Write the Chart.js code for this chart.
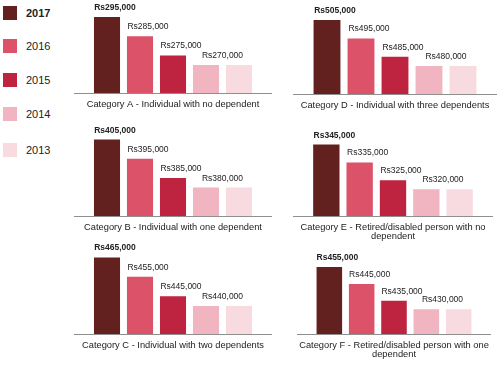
<!DOCTYPE html>
<html>
<head>
<meta charset="utf-8">
<script src="https://cdn.jsdelivr.net/npm/chart.js@4.4.1/dist/chart.umd.min.js"></script>
<style>
  html, body { margin: 0; background: #fff; }
  #wrap { position: relative; width: 500px; height: 366px; overflow: hidden;
          font-family: "Liberation Sans", Arial, sans-serif; }
  #wrap canvas { position: absolute; }
  .lg { position: absolute; left: 3px; width: 60px; height: 14px; font-size: 11px; color: #222; }
  .lg i { position: absolute; left: 0; top: 0; width: 14px; height: 14px; }
  .lg span { position: absolute; left: 23px; top: 0; line-height: 14px; white-space: nowrap; }
  .lg.bold span { font-weight: bold; }
</style>
</head>
<body>
<div id="wrap"></div>
<script>
// ---- data ----
const years = ['2017', '2016', '2015', '2014', '2013'];
const yearColors = ['#62201f', '#dc5269', '#be2340', '#f0b5c0', '#f8dbe0'];

const categories = [
  ['Category A - Individual with no dependent'],
  ['Category B - Individual with one dependent'],
  ['Category C - Individual with two dependents'],
  ['Category D - Individual with three dependents'],
  ['Category E - Retired/disabled person with no', 'dependent'],
  ['Category F - Retired/disabled person with one', 'dependent'],
];

const catA = [295000, 285000, 275000, 270000, 270000];
const catB = [405000, 395000, 385000, 380000, 380000];
const catC = [465000, 455000, 445000, 440000, 440000];
const catD = [505000, 495000, 485000, 480000, 480000];
const catE = [345000, 335000, 325000, 320000, 320000];
const catF = [455000, 445000, 435000, 430000, 430000];
const seriesValues = [catA, catB, catC, catD, catE, catF];

// value axis range of each panel (axis is hidden, bars start at the min)
const axisMin = [255400, 365200, 425600, 464800, 305000, 415400];
const axisMax = [302300, 412100, 471900, 513700, 355400, 468600];

// ---- layout ----
const panels = [
  { left: 74,  axisY: 93,  width: 198 },
  { left: 74,  axisY: 216, width: 198 },
  { left: 74,  axisY: 334, width: 198 },
  { left: 293, axisY: 94,  width: 204 },
  { left: 293, axisY: 216, width: 200 },
  { left: 297, axisY: 334, width: 194 },
];
const PLOT_H = 90;
const FONT = '"Liberation Sans", Arial, sans-serif';
const TITLE_LH = 9.6, TITLE_PAD = 6.5;

Chart.defaults.font.family = FONT;
Chart.defaults.color = '#222';

const wrap = document.getElementById('wrap');

// legend
const legendTops = [6, 39, 73, 107, 143];
years.forEach((y, i) => {
  const d = document.createElement('div');
  d.className = 'lg' + (i === 0 ? ' bold' : '');
  d.style.top = legendTops[i] + 'px';
  d.innerHTML = '<i style="background:' + yearColors[i] + '"></i><span>' + y + '</span>';
  wrap.appendChild(d);
});

function fmtRs(v) {
  return 'Rs' + String(v).replace(/\B(?=(\d{3})+(?!\d))/g, ',');
}

// labels over the bars; equal neighbours share one label
const valueLabels = {
  id: 'valueLabels',
  afterDatasetsDraw(chart) {
    const ctx = chart.ctx;
    const bars = chart.getDatasetMeta(0).data;
    const vals = chart.data.datasets[0].data.map(d => d.y);
    ctx.save();
    ctx.fillStyle = '#222';
    ctx.textAlign = 'center';
    ctx.textBaseline = 'alphabetic';
    bars.forEach((bar, i) => {
      if (i > 0 && vals[i] === vals[i - 1]) return;
      let x = bar.x + 8;
      if (i < vals.length - 1 && vals[i] === vals[i + 1]) x = (bar.x + bars[i + 1].x) / 2;
      ctx.font = (i === 0 ? 'bold ' : '') + '8.5px ' + FONT;
      ctx.fillText(fmtRs(vals[i]), x, bar.y - 7);
    });
    ctx.restore();
  }
};

panels.forEach((p, k) => {
  const lines = categories[k].length;
  const raw = lines * TITLE_LH + TITLE_PAD + 2;
  const axisH = Math.ceil(raw);
  const padBottom = axisH - lines * TITLE_LH - TITLE_PAD;

  const cv = document.createElement('canvas');
  cv.width = p.width;
  cv.height = PLOT_H + axisH;
  cv.style.left = p.left + 'px';
  cv.style.top = (p.axisY - PLOT_H) + 'px';
  wrap.appendChild(cv);

  new Chart(cv, {
    type: 'bar',
    data: {
      datasets: [{
        data: seriesValues[k].map((v, i) => ({ x: i, y: v })),
        backgroundColor: yearColors,
        borderWidth: 0,
        categoryPercentage: 1,
        barPercentage: 0.79,
      }],
    },
    options: {
      responsive: false,
      animation: false,
      layout: { padding: 0 },
      plugins: { legend: { display: false }, tooltip: { enabled: false } },
      scales: {
        x: {
          type: 'linear',
          min: -1,
          max: 5,
          offset: false,
          ticks: { display: false, stepSize: 1 },
          grid: { display: false, drawTicks: false },
          border: { display: true, color: '#8f8f8f', width: 1 },
          title: {
            display: true,
            text: categories[k],
            color: '#222',
            font: { size: 9.3, lineHeight: TITLE_LH + 'px' },
            padding: { top: TITLE_PAD, bottom: padBottom },
          },
        },
        y: {
          display: false,
          min: axisMin[k],
          max: axisMax[k],
        },
      },
    },
    plugins: [valueLabels],
  });
});
</script>
</body>
</html>
